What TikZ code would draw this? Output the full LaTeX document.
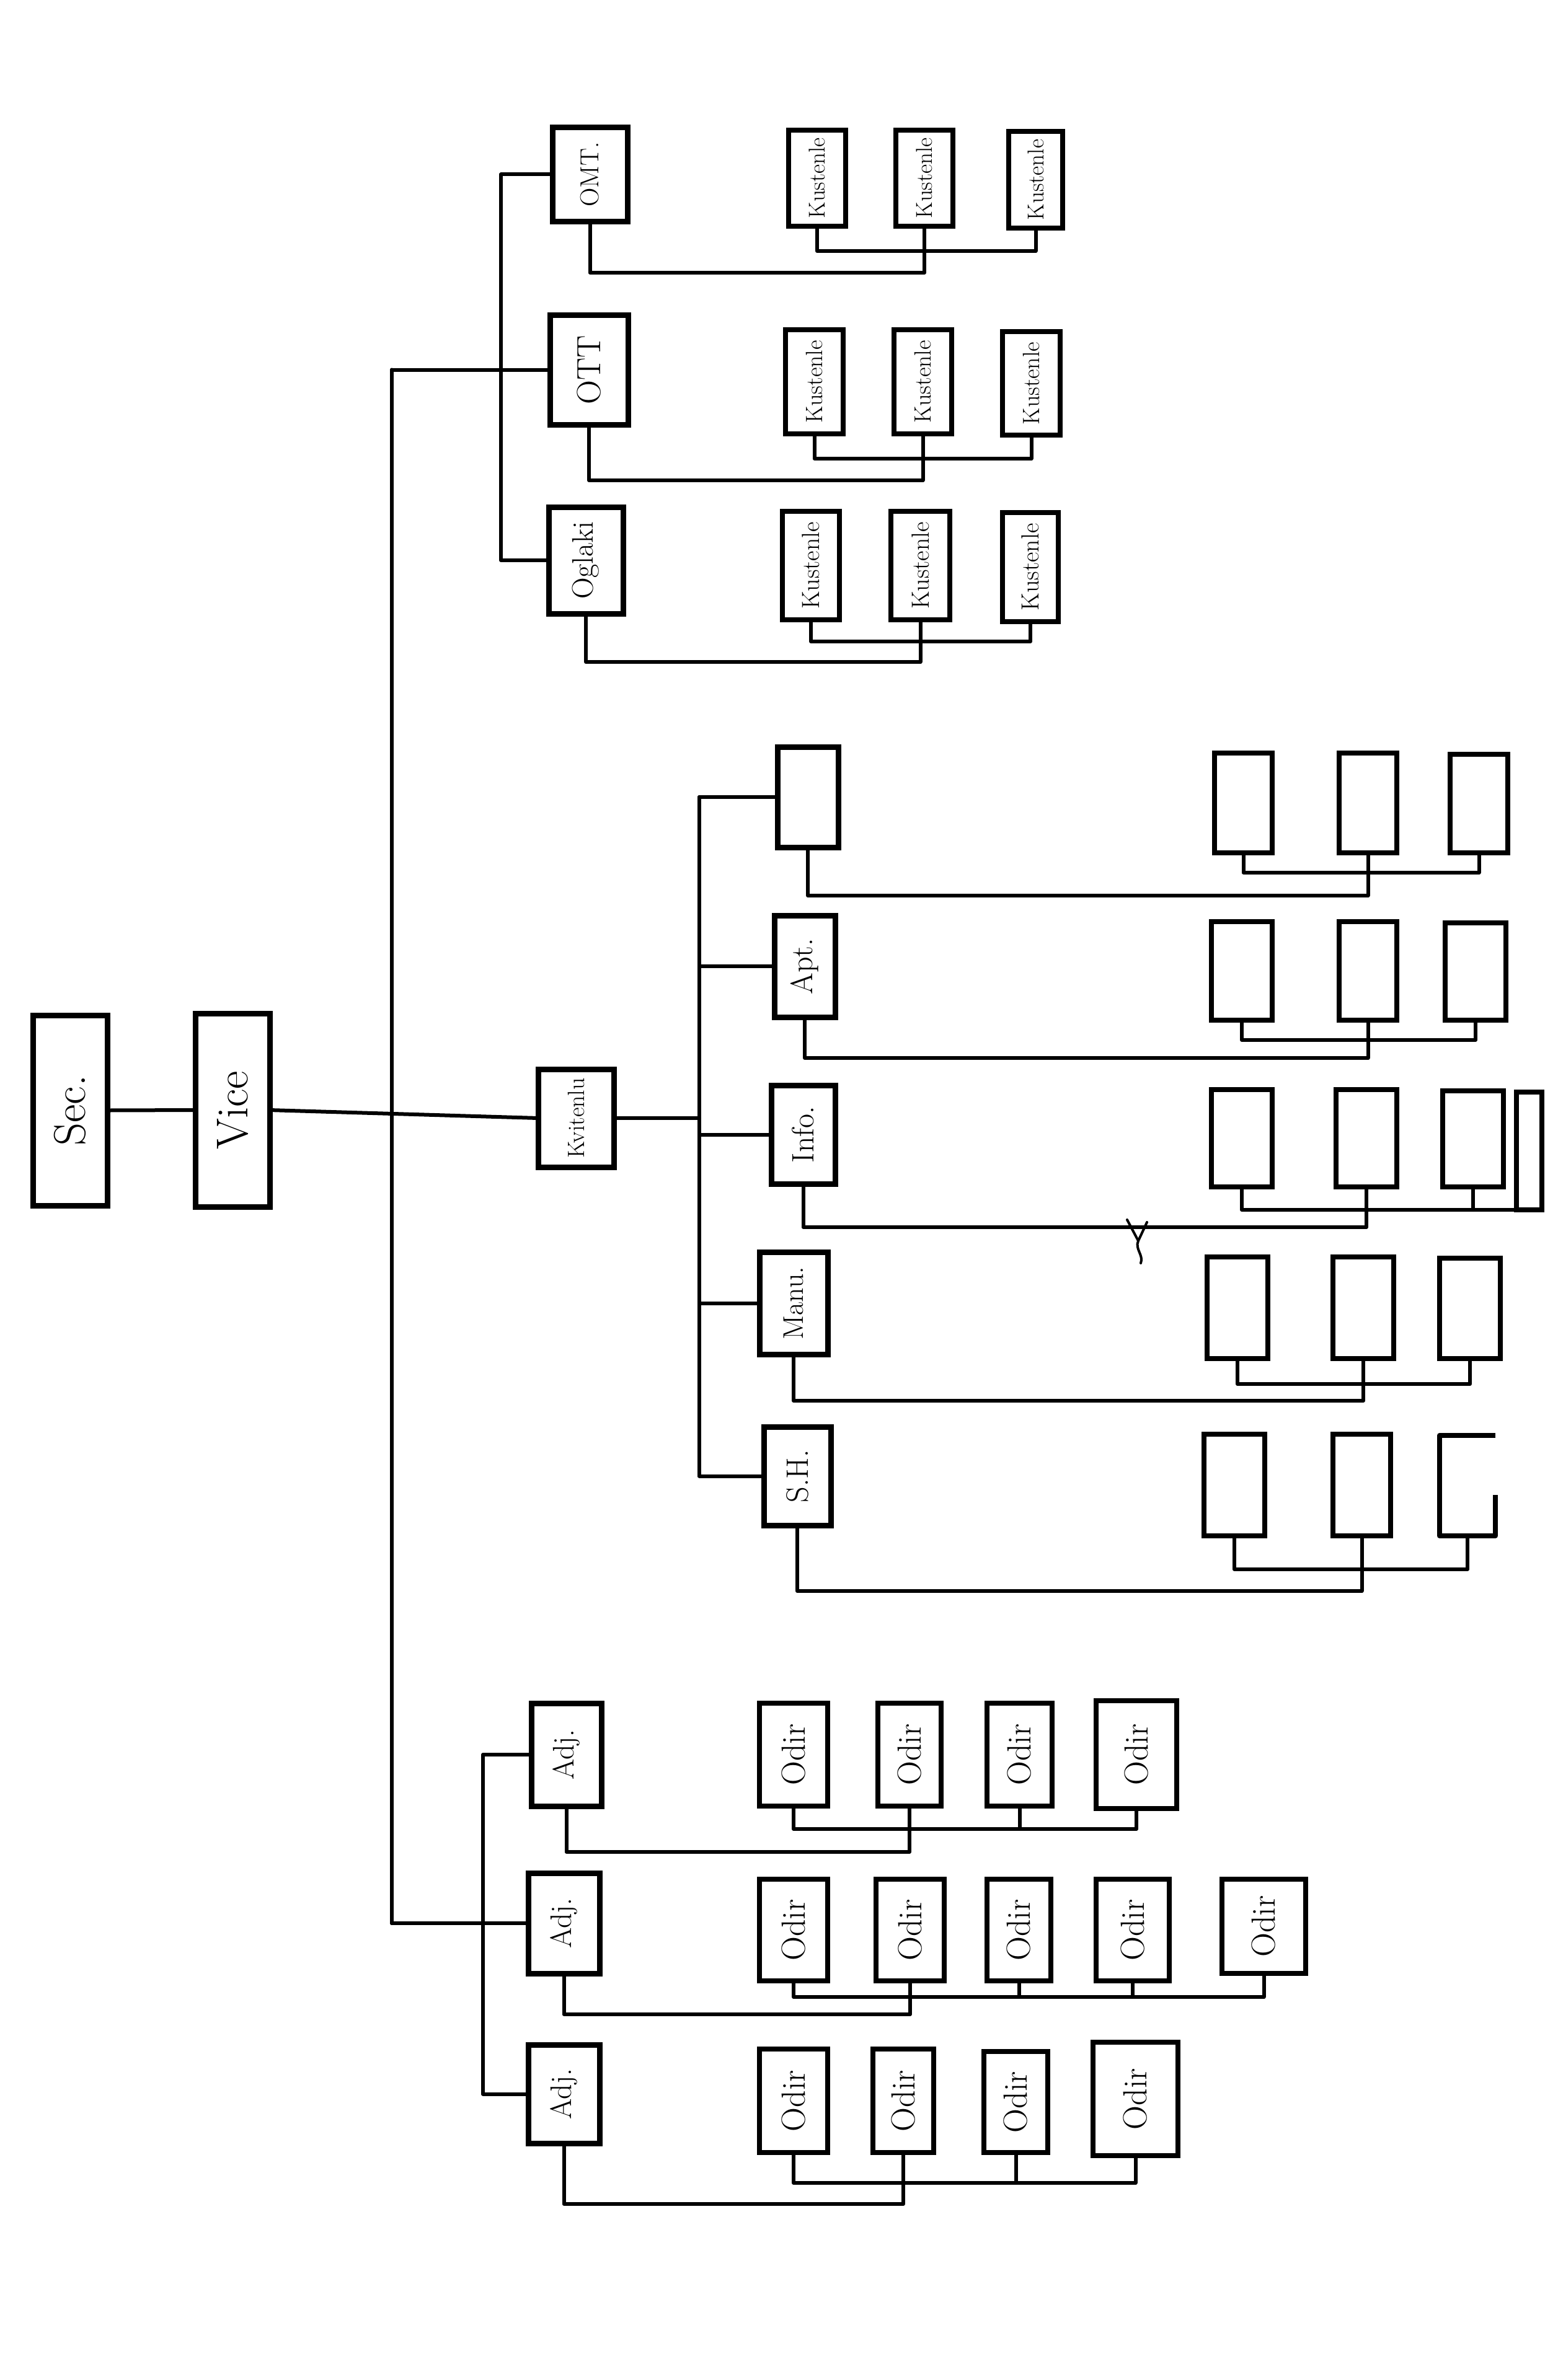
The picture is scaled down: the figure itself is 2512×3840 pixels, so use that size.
\documentclass[tikz,border=0pt]{standalone}
\usetikzlibrary{calc}
\tikzset{
  box/.style={draw, line width=9pt, rectangle, inner sep=0pt, outer sep=0pt},
  sbox/.style={draw, line width=8pt, rectangle, inner sep=0pt, outer sep=0pt},
  nobox/.style={rectangle, inner sep=0pt, outer sep=0pt},
  conn/.style={line width=6pt, line cap=round, line join=round},
}
\newcommand\mybox[7]{%
  \pgfmathsetmacro\bw{#5-#3}\pgfmathsetmacro\bh{#6-#4}%
  \pgfmathsetmacro\bcx{(#3+#5)/2}\pgfmathsetmacro\bcy{(#4+#6)/2}%
  \node[#1, minimum width=\bw pt, minimum height=\bh pt] (#2) at (\bcx,\bcy) {#7};}
\newcommand\rt[2]{\rotatebox{90}{\fontsize{#1}{#1}\selectfont #2}}
% parent, c1, cmid, clast, busY, parY
\newcommand\grp[6]{%
  \draw[conn] (#1.south) -- (#1.south |- 0,#6) -- (#3.south |- 0,#6) -- (#3.south);
  \draw[conn] (#2.south) -- (#2.south |- 0,#5) -- (#4.south |- 0,#5) -- (#4.south);}
\newcommand\stem[2]{\draw[conn] (#1.south) -- (#1.south |- 0,#2);}
\begin{document}
\begin{tikzpicture}[x=1pt,y=-1pt]
\fill[white] (0,0) rectangle (2512,3840);
\useasboundingbox (0,0) rectangle (2512,3840);

% top level
\mybox{box}{sec}{53}{1638}{173}{1945}{\rt{72}{Sec.}}
\mybox{box}{vice}{315}{1635}{435}{1947}{\rt{72}{Vice}}
\mybox{box}{kv}{868}{1725}{990}{1883}{\rt{38}{Kvitenlu}}

% upper branch
\mybox{box}{omt}{891}{206}{1012}{357}{\rt{42}{OMT.}}
\mybox{box}{ott}{887}{508}{1013}{685}{\rt{54}{OTT}}
\mybox{box}{ogl}{885}{818}{1005}{990}{\rt{48}{Oglaki}}

\mybox{sbox}{m1}{1272}{210}{1364}{365}{\rt{37}{Kustenle}}
\mybox{sbox}{m2}{1445}{210}{1537}{365}{\rt{37}{Kustenle}}
\mybox{sbox}{m3}{1627}{212}{1714}{368}{\rt{37}{Kustenle}}
\mybox{sbox}{t1}{1267}{532}{1360}{700}{\rt{38}{Kustenle}}
\mybox{sbox}{t2}{1442}{532}{1535}{700}{\rt{38}{Kustenle}}
\mybox{sbox}{t3}{1617}{535}{1710}{702}{\rt{38}{Kustenle}}
\mybox{sbox}{g1}{1262}{825}{1354}{1000}{\rt{40}{Kustenle}}
\mybox{sbox}{g2}{1437}{825}{1532}{1000}{\rt{40}{Kustenle}}
\mybox{sbox}{g3}{1617}{827}{1707}{1003}{\rt{40}{Kustenle}}

% middle branch
\mybox{box}{mp0}{1254}{1205}{1352}{1367}{}
\mybox{box}{mp1}{1249}{1477}{1347}{1641}{\rt{50}{Apt.}}
\mybox{box}{mp2}{1244}{1751}{1347}{1910}{\rt{50}{Info.}}
\mybox{box}{mp3}{1225}{2020}{1335}{2185}{\rt{46}{Manu.}}
\mybox{box}{mp4}{1232}{2302}{1340}{2461}{\rt{50}{S.H.}}

\mybox{sbox}{a1}{1959}{1215}{2052}{1376}{}
\mybox{sbox}{a2}{2160}{1215}{2253}{1376}{}
\mybox{sbox}{a3}{2339}{1217}{2432}{1376}{}
\mybox{sbox}{b1}{1954}{1487}{2052}{1646}{}
\mybox{sbox}{b2}{2160}{1487}{2253}{1646}{}
\mybox{sbox}{b3}{2331}{1489}{2429}{1646}{}
\mybox{sbox}{c1}{1954}{1758}{2052}{1915}{}
\mybox{sbox}{c2}{2155}{1758}{2253}{1915}{}
\mybox{sbox}{c3}{2327}{1760}{2425}{1915}{}
\mybox{sbox}{c4}{2446}{1762}{2487}{1952}{}
\mybox{sbox}{d1}{1947}{2028}{2045}{2192}{}
\mybox{sbox}{d2}{2150}{2028}{2248}{2192}{}
\mybox{sbox}{d3}{2322}{2030}{2420}{2192}{}
\mybox{sbox}{e1}{1942}{2314}{2040}{2478}{}
\mybox{sbox}{e2}{2150}{2314}{2243}{2478}{}
\mybox{nobox}{e3}{2322}{2316}{2412}{2478}{}
\draw[line width=8pt, line join=round] (e3.north east) -- (e3.north west) -- (e3.south west) -- (e3.south east) -- ++(0,-66);

% lower branch
\mybox{box}{adj1}{857}{2748}{970}{2914}{\rt{48}{Adj.}}
\mybox{box}{adj2}{852}{3022}{967}{3184}{\rt{48}{Adj.}}
\mybox{box}{adj3}{852}{3299}{967}{3458}{\rt{48}{Adj.}}

\mybox{sbox}{o11}{1225}{2748}{1335}{2914}{\rt{54}{Odir}}
\mybox{sbox}{o12}{1416}{2748}{1518}{2914}{\rt{54}{Odir}}
\mybox{sbox}{o13}{1592}{2748}{1697}{2914}{\rt{54}{Odir}}
\mybox{sbox}{o14}{1768}{2744}{1898}{2918}{\rt{54}{Odir}}
\mybox{sbox}{o21}{1225}{3032}{1335}{3196}{\rt{54}{Odir}}
\mybox{sbox}{o22}{1413}{3032}{1523}{3196}{\rt{54}{Odir}}
\mybox{sbox}{o23}{1592}{3032}{1695}{3196}{\rt{54}{Odir}}
\mybox{sbox}{o24}{1768}{3032}{1886}{3196}{\rt{54}{Odir}}
\mybox{sbox}{o25}{1971}{3032}{2106}{3184}{\rt{54}{Odir}}
\mybox{sbox}{o31}{1225}{3306}{1335}{3473}{\rt{54}{Odir}}
\mybox{sbox}{o32}{1408}{3306}{1506}{3473}{\rt{54}{Odir}}
\mybox{sbox}{o33}{1587}{3310}{1690}{3473}{\rt{54}{Odir}}
\mybox{sbox}{o34}{1763}{3295}{1900}{3478}{\rt{54}{Odir}}

% ---- connectors ----
\draw[conn] (sec.east) -- (vice.west);
\draw[conn] (vice.east) -- (kv.west);
\coordinate (spT) at (632,596.5);
\coordinate (spB) at (632,3103);
\draw[conn] (spT) -- (spB);
\draw[conn] (spT) -- (ott.west);
\draw[conn] (spB) -- (adj2.west);

\coordinate (tvT) at (808,281.5);
\coordinate (tvB) at (808,904);
\draw[conn] (omt.west) -- (tvT) -- (tvB) -- (ogl.west);

\grp{omt}{m1}{m2}{m3}{405}{440}
\grp{ott}{t1}{t2}{t3}{740}{775}
\grp{ogl}{g1}{g2}{g3}{1035}{1068}

\coordinate (ssT) at (1128,1286);
\coordinate (ssB) at (1128,2381.5);
\draw[conn] (ssT) -- (ssB);
\draw[conn] (ssT) -- (mp0.west);
\draw[conn] (mp1.west -| ssT) -- (mp1.west);
\draw[conn] (mp2.west -| ssT) -- (mp2.west);
\draw[conn] (mp3.west -| ssT) -- (mp3.west);
\draw[conn] (ssB) -- (mp4.west);
\draw[conn] (kv.east) -- (kv.east -| ssT);

\grp{mp0}{a1}{a2}{a3}{1408}{1445}
\grp{mp1}{b1}{b2}{b3}{1678}{1707}
\grp{mp2}{c1}{c2}{c4}{1952}{1980}
\stem{c3}{1952}
\grp{mp3}{d1}{d2}{d3}{2233}{2260}
\grp{mp4}{e1}{e2}{e3}{2532}{2567}

\coordinate (bvT) at (779,2831);
\coordinate (bvB) at (779,3378.5);
\draw[conn] (adj1.west) -- (bvT) -- (bvB) -- (adj3.west);

\grp{adj1}{o11}{o12}{o14}{2951}{2988}
\stem{o13}{2951}
\grp{adj2}{o21}{o22}{o25}{3222}{3250}
\stem{o23}{3222}
\stem{o24}{3222}
\grp{adj3}{o31}{o32}{o34}{3522}{3556}
\stem{o33}{3522}

% small hand mark
\draw[line width=4pt, line cap=round, line join=round] (1818,1968) -- (1836,2002) -- (1850,1972) (1836,2002) .. controls (1830,2015) and (1845,2025) .. (1840,2038);
\end{tikzpicture}
\end{document}
